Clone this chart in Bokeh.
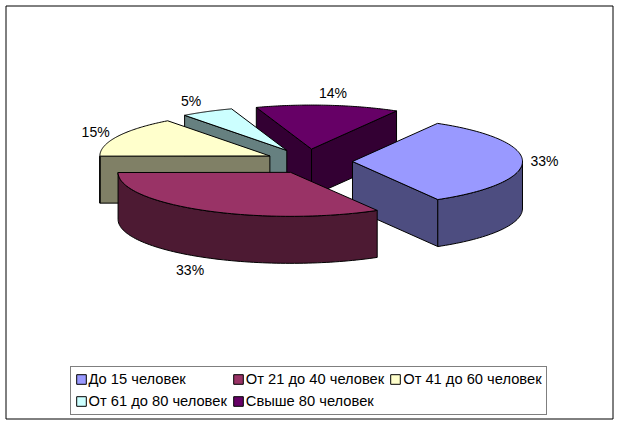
import numpy as np
from bokeh.plotting import figure
from bokeh.models import Range1d, Legend, LegendItem, ColumnDataSource
from bokeh.core.properties import value
from bokeh.embed import file_html
from bokeh.resources import INLINE

categories = ["До 15 человек", "От 21 до 40 человек", "От 41 до 60 человек",
              "От 61 до 80 человек", "Свыше 80 человек"]
values = [33.3, 33.3, 14.8, 5.0, 13.6]
top_colors = ["#9999FF", "#993366", "#FFFFCC", "#CCFFFF", "#660066"]
side_colors = ["#4D4D80", "#4D1A33", "#808066", "#668080", "#330033"]
draw_order = [4, 3, 2, 0, 1]

# pie projection, pixels in the figure
W, H = 614, 420
RX, RY, DEPTH = 170, 44, 47
CX, CY = 311, 161
EX, EY = 42, 12.5
START = -60.0
# extra sideways shift and size of each exploded slice (perspective of the 3-D view)
shift_x = [-1, 0, -4, -5, -4]
scale = [1.0, 1.015, 1.0, 1.0, 1.0]
label_dx = [22, -16, -22, -16, 5]
label_dy = [0, 12, -4, -11, -12]

fracs = np.array(values) / sum(values)
edges = START + np.concatenate([[0], np.cumsum(fracs) * 360])

p = figure(width=W, height=H, output_backend="svg", toolbar_location=None,
           x_range=Range1d(0, W), y_range=Range1d(H, 0),
           min_border=0, outline_line_color=None, x_axis_type=None, y_axis_type=None)
p.grid.visible = False
p.background_fill_color = "white"

# chart area border
fl, fr, ft, fb = 5.5, 612.5, 5.5, 418.5
p.line([fl, fr, fr, fl, fl], [ft, ft, fb, fb, ft], line_color="black", line_width=1)

top_renderers = {}
lab_x, lab_y, lab_t, lab_dx, lab_dy = [], [], [], [], []
for i in draw_order:
    a0, a1 = np.radians(edges[i]), np.radians(edges[i + 1])
    mid = (a0 + a1) / 2
    cx = CX + EX * np.cos(mid) + shift_x[i]
    cy = CY + EY * np.sin(mid)
    th = np.linspace(a0, a1, 80)
    ax = cx + RX * scale[i] * np.cos(th)
    ay = cy + RY * np.sin(th)
    # radial walls that face the viewer
    for end, facing in ((0, -np.cos(a0) > 0), (-1, np.cos(a1) > 0)):
        if facing:
            p.patch([cx, ax[end], ax[end], cx], [cy, ay[end], ay[end] + DEPTH, cy + DEPTH],
                    fill_color=side_colors[i], line_color="black", line_width=1)
    # outer wall: only the front part of the rim is visible
    front = np.sin(th) >= 0
    if front.any():
        fx, fy = ax[front], ay[front]
        p.patch(np.concatenate([fx, fx[::-1]]), np.concatenate([fy, fy[::-1] + DEPTH]),
                fill_color=side_colors[i], line_color="black", line_width=1)
    top_renderers[i] = p.patch(np.concatenate([[cx], ax]), np.concatenate([[cy], ay]),
                               fill_color=top_colors[i], line_color="black", line_width=1)
    s = np.sin(mid)
    lab_x.append(cx + RX * np.cos(mid))
    lab_y.append(cy + RY * s + (DEPTH if s > 0 else 0))
    lab_t.append(f"{round(values[i])}%")
    lab_dx.append(label_dx[i])
    lab_dy.append(label_dy[i])

src = ColumnDataSource(dict(x=lab_x, y=lab_y, t=lab_t, dx=lab_dx, dy=lab_dy))
p.text("x", "y", text="t", x_offset="dx", y_offset="dy", source=src, text_color="black",
       text_font=value("Liberation Sans"), text_font_size="14px",
       text_align="center", text_baseline="middle")

legend = Legend(items=[LegendItem(label=categories[i], renderers=[top_renderers[i]]) for i in range(5)],
                orientation="horizontal", ncols=3, location=(69.5, H - 414.5),
                label_text_font="Liberation Sans", label_text_font_size="14.7px",
                label_text_color="black", glyph_width=12, glyph_height=12, label_standoff=2,
                spacing=5, padding=4, margin=0, border_line_color="black", border_line_width=1,
                background_fill_color="white", background_fill_alpha=1,
                label_height=17, click_policy="none")
p.add_layout(legend, "center")

open("out.html", "w").write(file_html(p, INLINE))
